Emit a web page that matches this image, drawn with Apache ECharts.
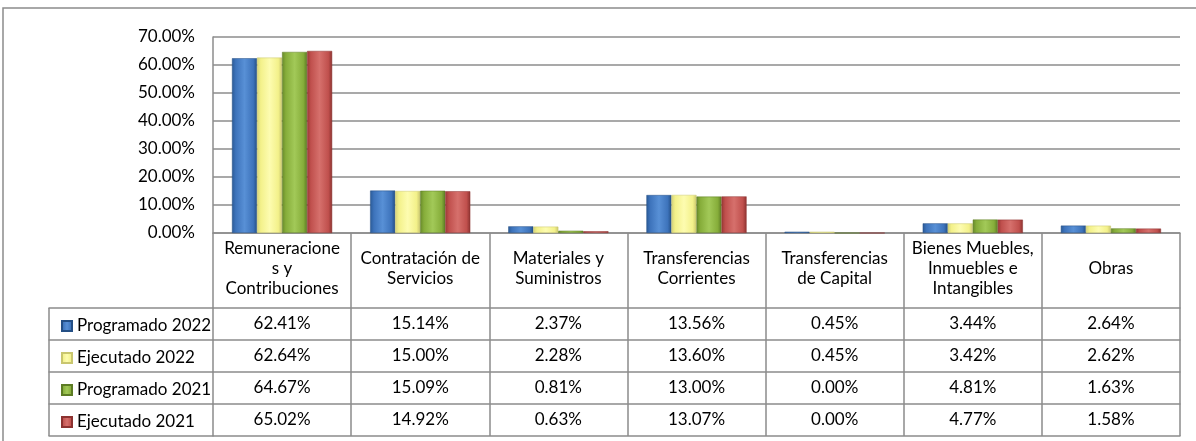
<!DOCTYPE html>
<html><head><meta charset="utf-8">
<script src="https://cdn.jsdelivr.net/npm/echarts@6/dist/echarts.min.js"></script>
<style>html,body{margin:0;padding:0;background:#fff}#c{width:1196px;height:441px}</style>
</head><body><div id="c"></div>
<script>
const categories = ['Remuneracione\ns y\nContribuciones','Contratación de\nServicios','Materiales y\nSuministros','Transferencias\nCorrientes','Transferencias\nde Capital','Bienes Muebles,\nInmuebles e\nIntangibles','Obras'];
const seriesNames = ['Programado 2022','Ejecutado 2022','Programado 2021','Ejecutado 2021'];
const programado2022 = [62.41,15.14,2.37,13.56,0.45,3.44,2.64];
const ejecutado2022  = [62.64,15.00,2.28,13.60,0.45,3.42,2.62];
const programado2021 = [64.67,15.09,0.81,13.00,0.00,4.81,1.63];
const ejecutado2021  = [65.02,14.92,0.63,13.07,0.00,4.77,1.58];
const yTicks = {min:0,max:70,interval:10};

const rows = [programado2022, ejecutado2022, programado2021, ejecutado2021];
const palettes = [
  ['#2a5a96','#3d73bb','#5890d6','#3d73bb','#244f85'],
  ['#d4d27a','#f3f18a','#fdfcb0','#f3f18a','#c9c66f'],
  ['#67892a','#86ad3a','#a2c958','#86ad3a','#5c7b24'],
  ['#9a3835','#c0504d','#d6706c','#c0504d','#8c3230']
];
function grad(p){
  return {type:'linear',x:0,y:0,x2:1,y2:0,colorStops:[
    {offset:0,color:p[0]},{offset:0.15,color:p[1]},{offset:0.5,color:p[2]},{offset:0.85,color:p[3]},{offset:1,color:p[4]}]};
}
const FONT = 'Lato';
const FS = 17;
const lineC = '#8c8c8c';
const HEADER = 75, ROW = 32;
const xAxes = [];
xAxes.push({
  type:'category', gridIndex:0, data:categories, position:'bottom',
  axisLine:{show:true,onZero:false,lineStyle:{color:lineC,width:1.5}},
  axisTick:{show:true,interval:0,length:HEADER,lineStyle:{color:lineC,width:1.5}},
  axisLabel:{interval:0,margin:HEADER/2-2,verticalAlign:'middle',fontSize:FS,lineHeight:20,color:'#000',fontFamily:FONT}
});
rows.forEach((r,k)=>{
  xAxes.push({
    type:'category', gridIndex:0, data:categories, position:'bottom', offset:HEADER+ROW*k,
    axisLine:{show:true,onZero:false,lineStyle:{color:lineC,width:1.5}},
    axisTick:{show:true,interval:0,length:ROW,lineStyle:{color:lineC,width:1.5}},
    axisLabel:{interval:0,margin:ROW/2,verticalAlign:'middle',fontSize:FS,color:'#000',fontFamily:FONT,
      formatter:(v,i)=>r[i].toFixed(2)+'%'}
  });
  xAxes.push({
    type:'category', gridIndex:1, data:[''], position:'bottom', offset:HEADER+ROW*k,
    axisLine:{show:true,onZero:false,lineStyle:{color:lineC,width:1.5}},
    axisTick:{show:true,interval:0,length:ROW,lineStyle:{color:lineC,width:1.5}},
    axisLabel:{show:false}
  });
});
[0,1].forEach(g=>{
  xAxes.push({
    type:'category', gridIndex:g, data:g===0?categories:[''], position:'bottom', offset:HEADER+ROW*4,
    axisLine:{show:true,onZero:false,lineStyle:{color:lineC,width:1.5}},
    axisTick:{show:false}, axisLabel:{show:false}
  });
});

const chart = echarts.init(document.getElementById('c'));
chart.setOption({
  backgroundColor:'#fff',
  animation:false,
  graphic:[{type:'rect',shape:{x:3,y:8,width:1205,height:445},style:{fill:'none',stroke:lineC,lineWidth:1.5},silent:true}],
  grid:[
    {left:213,right:16,top:37,bottom:208,containLabel:false},
    {left:49,width:164,top:37,bottom:208,containLabel:false}
  ],
  legend:{
    orient:'vertical', left:56, top:312, itemWidth:10, itemHeight:10, itemGap:14,
    icon:'rect', data:seriesNames,
    textStyle:{fontSize:FS,lineHeight:18,color:'#000',fontFamily:FONT}
  },
  xAxis:xAxes,
  yAxis:[
    {type:'value',gridIndex:0,min:yTicks.min,max:yTicks.max,interval:yTicks.interval,
     axisLine:{show:true,lineStyle:{color:lineC,width:1.5}},axisTick:{show:false},
     splitLine:{lineStyle:{color:lineC,width:1.5}},
     axisLabel:{margin:18,fontSize:FS,color:'#000',fontFamily:FONT,formatter:v=>v.toFixed(2)+'%'}},
    {type:'value',gridIndex:1,show:false,min:0,max:1}
  ],
  series:rows.map((r,k)=>({
    name:seriesNames[k], type:'bar', xAxisIndex:0, yAxisIndex:0, data:r,
    barGap:'0%', barCategoryGap:'27.5%',
    itemStyle:{color:grad(palettes[k]),borderColor:palettes[k][4],borderWidth:0.5}
  }))
});
</script></body></html>
